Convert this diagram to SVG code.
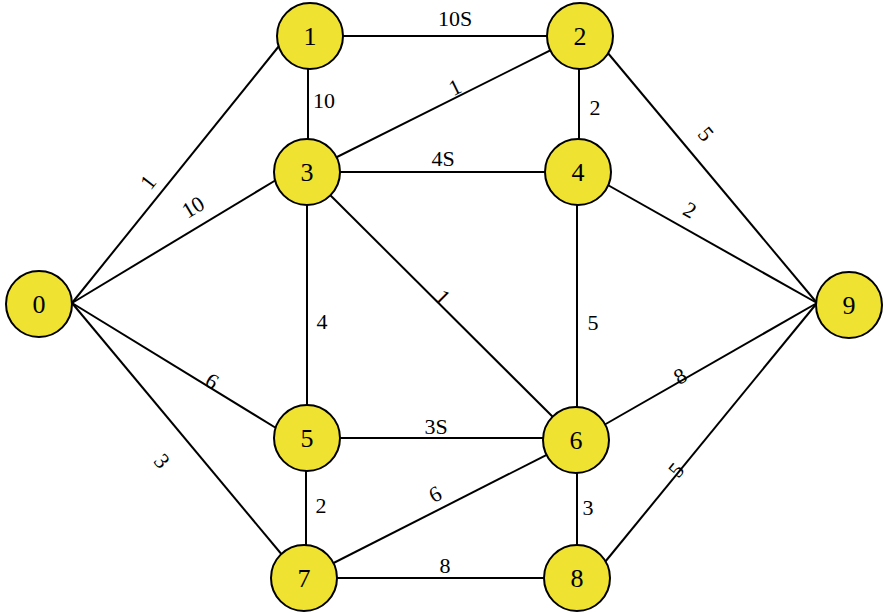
<svg xmlns="http://www.w3.org/2000/svg" width="884" height="613" viewBox="0 0 884 613">
<style>
.e{stroke:#000;stroke-width:2;fill:none}
.n circle{fill:#EFE231;stroke:#000;stroke-width:2}
</style>
<rect width="884" height="613" fill="#fff"/>
<g id="edges">
<line class="e" x1="72" y1="303" x2="279" y2="46"/>
<line class="e" x1="72" y1="303" x2="276" y2="180"/>
<line class="e" x1="72" y1="303" x2="276" y2="428"/>
<line class="e" x1="72" y1="303" x2="283" y2="556"/>
<line class="e" x1="309" y1="36" x2="579" y2="36"/>
<line class="e" x1="308" y1="36" x2="308" y2="172"/>
<line class="e" x1="307" y1="172" x2="579" y2="36"/>
<line class="e" x1="579" y1="36" x2="579" y2="172"/>
<line class="e" x1="607" y1="52" x2="817" y2="303"/>
<line class="e" x1="307" y1="172" x2="578" y2="172"/>
<line class="e" x1="307" y1="172" x2="307" y2="438"/>
<line class="e" x1="307" y1="172" x2="576" y2="440"/>
<line class="e" x1="577" y1="172" x2="577" y2="440"/>
<line class="e" x1="606" y1="184" x2="817" y2="303"/>
<line class="e" x1="307" y1="438" x2="576" y2="438"/>
<line class="e" x1="306" y1="438" x2="306" y2="578"/>
<line class="e" x1="304" y1="578" x2="576" y2="440"/>
<line class="e" x1="577" y1="440" x2="577" y2="578"/>
<line class="e" x1="604" y1="425" x2="817" y2="303"/>
<line class="e" x1="304" y1="578" x2="577" y2="578"/>
<line class="e" x1="605" y1="562" x2="817" y2="303"/>
</g>
<g id="edge-labels" font-family="Liberation Serif, Times New Roman, serif" font-size="22" text-anchor="middle" dominant-baseline="central" fill="#000">
<text x="455" y="18">10S</text>
<text x="324" y="100">10</text>
<text transform="translate(455,87) rotate(-26)">1</text>
<text x="595" y="107">2</text>
<text transform="translate(706,134) rotate(50)">5</text>
<text x="443" y="158">4S</text>
<text transform="translate(690,210) rotate(29.5)">2</text>
<text transform="translate(148,182) rotate(-52)">1</text>
<text transform="translate(193,207) rotate(-31)">10</text>
<text x="322" y="321">4</text>
<text transform="translate(443,297) rotate(45)">1</text>
<text x="593" y="322">5</text>
<text transform="translate(212,381) rotate(31.5)">6</text>
<text transform="translate(680,376) rotate(-29.5)">8</text>
<text x="436" y="426">3S</text>
<text transform="translate(162,461) rotate(50)">3</text>
<text x="321" y="505">2</text>
<text transform="translate(435,494) rotate(-26.7)">6</text>
<text x="588" y="507">3</text>
<text transform="translate(676,470) rotate(-50)">5</text>
<text x="445" y="565">8</text>
</g>
<g id="nodes" font-family="Liberation Serif, Times New Roman, serif" font-size="26" text-anchor="middle" dominant-baseline="central" fill="#000">
<g id="node0" class="n"><circle cx="39" cy="304" r="33"/><text x="39" y="304">0</text></g>
<g id="node1" class="n"><circle cx="310" cy="36" r="33"/><text x="310" y="36">1</text></g>
<g id="node2" class="n"><circle cx="580" cy="36" r="33"/><text x="580" y="36">2</text></g>
<g id="node3" class="n"><circle cx="307" cy="172" r="33"/><text x="307" y="172">3</text></g>
<g id="node4" class="n"><circle cx="578" cy="172" r="33"/><text x="578" y="172">4</text></g>
<g id="node5" class="n"><circle cx="307" cy="438" r="33"/><text x="307" y="438">5</text></g>
<g id="node6" class="n"><circle cx="576" cy="440" r="33"/><text x="576" y="440">6</text></g>
<g id="node7" class="n"><circle cx="304" cy="578" r="33"/><text x="304" y="578">7</text></g>
<g id="node8" class="n"><circle cx="577" cy="578" r="33"/><text x="577" y="578">8</text></g>
<g id="node9" class="n"><circle cx="849" cy="305" r="33"/><text x="849" y="305">9</text></g>
</g>
</svg>
